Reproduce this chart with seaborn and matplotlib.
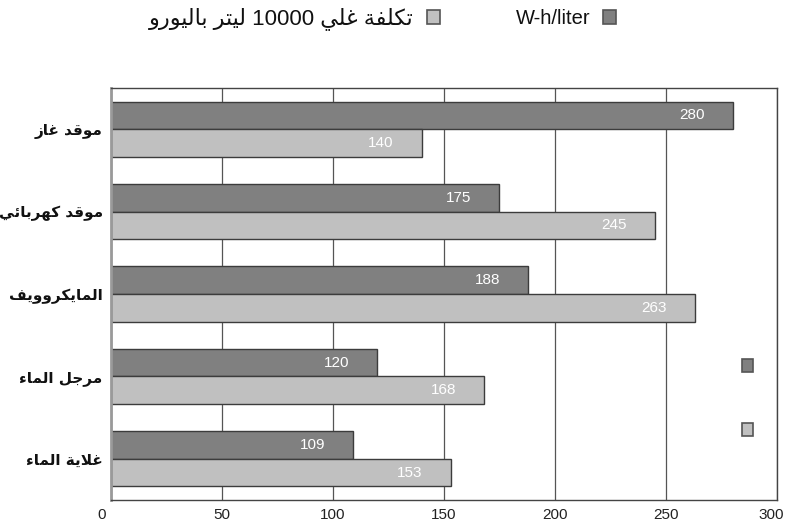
import re

import matplotlib
matplotlib.use("Agg")
import matplotlib.pyplot as plt
from matplotlib.patches import Patch, Rectangle
from matplotlib.transforms import ScaledTranslation
import pandas as pd
import seaborn as sns

# ---- data -------------------------------------------------------------
categories = ["موقد غاز", "موقد كهربائي", "المايكروويف", "مرجل الماء", "غلاية الماء"]
wh_per_liter = [280, 175, 188, 120, 109]
cost_10000_liters = [140, 245, 263, 168, 153]
series_names = ["W-h/liter", "تكلفة غلي 10000 ليتر باليورو"]
x_ticks = [0, 50, 100, 150, 200, 250, 300]

DARK = "#808080"
LIGHT = "#c0c0c0"
EDGE = "#3c3c3c"

# ---- minimal Arabic shaping (matplotlib has no complex text layout) -----
# letter: (isolated, final, initial, medial); right-joining letters lack the last two
FORMS = {
    "\u0621": ("\uFE80", None, None, None),
    "\u0626": ("\uFE89", "\uFE8A", "\uFE8B", "\uFE8C"),
    "\u0627": ("\uFE8D", "\uFE8E", None, None),
    "\u0628": ("\uFE8F", "\uFE90", "\uFE91", "\uFE92"),
    "\u0629": ("\uFE93", "\uFE94", None, None),
    "\u062A": ("\uFE95", "\uFE96", "\uFE97", "\uFE98"),
    "\u062C": ("\uFE9D", "\uFE9E", "\uFE9F", "\uFEA0"),
    "\u062F": ("\uFEA9", "\uFEAA", None, None),
    "\u0631": ("\uFEAD", "\uFEAE", None, None),
    "\u0632": ("\uFEAF", "\uFEB0", None, None),
    "\u063A": ("\uFECD", "\uFECE", "\uFECF", "\uFED0"),
    "\u0641": ("\uFED1", "\uFED2", "\uFED3", "\uFED4"),
    "\u0642": ("\uFED5", "\uFED6", "\uFED7", "\uFED8"),
    "\u0643": ("\uFED9", "\uFEDA", "\uFEDB", "\uFEDC"),
    "\u0644": ("\uFEDD", "\uFEDE", "\uFEDF", "\uFEE0"),
    "\u0645": ("\uFEE1", "\uFEE2", "\uFEE3", "\uFEE4"),
    "\u0647": ("\uFEE9", "\uFEEA", "\uFEEB", "\uFEEC"),
    "\u0648": ("\uFEED", "\uFEEE", None, None),
    "\u064A": ("\uFEF1", "\uFEF2", "\uFEF3", "\uFEF4"),
}
LAM, ALEF = "\u0644", "\u0627"


def _dual(ch):
    return ch in FORMS and FORMS[ch][2] is not None


def shape_arabic(text):
    out = []
    i = 0
    n = len(text)
    while i < n:
        ch = text[i]
        if ch not in FORMS:
            out.append(ch)
            i += 1
            continue
        prev_joins = i > 0 and _dual(text[i - 1])
        if ch == LAM and i + 1 < n and text[i + 1] == ALEF:
            out.append("\uFEFC" if prev_joins else "\uFEFB")
            i += 2
            continue
        next_joins = _dual(ch) and i + 1 < n and text[i + 1] in FORMS
        iso, fin, ini, med = FORMS[ch]
        if prev_joins and next_joins:
            out.append(med)
        elif prev_joins:
            out.append(fin)
        elif next_joins:
            out.append(ini)
        else:
            out.append(iso)
        i += 1
    visual = "".join(out)[::-1]
    return re.sub(r"[0-9]+", lambda m: m.group(0)[::-1], visual)


# ---- figure -----------------------------------------------------------
sns.set_style("white")
plt.rcParams["font.family"] = ["Liberation Sans", "DejaVu Sans"]

df = pd.DataFrame({
    "category": categories * 2,
    "series": [series_names[0]] * len(categories) + [series_names[1]] * len(categories),
    "value": wh_per_liter + cost_10000_liters,
})

fig = plt.figure(figsize=(7.86, 5.27), dpi=100)
ax = fig.add_axes([0.1412, 0.0512, 0.8473, 0.782])

sns.barplot(data=df, y="category", x="value", hue="series", orient="h",
            palette=[DARK, LIGHT], width=0.67, saturation=1,
            edgecolor=EDGE, linewidth=1.0, legend=False, ax=ax)

ax.set_xlim(x_ticks[0], x_ticks[-1])
ax.set_ylim(len(categories) - 0.5, -0.5)
ax.set_xticks(x_ticks)
ax.set_xticklabels([str(t) for t in x_ticks], fontsize=11, color="#222222")
ax.set_yticks(range(len(categories)))
ax.set_yticklabels([shape_arabic(c) for c in categories],
                   fontsize=11, fontweight="bold", color="#111111",
                   family=["DejaVu Sans"])
ax.tick_params(axis="both", length=0, pad=6)
ax.set_xlabel("")
ax.set_ylabel("")

# pull the end labels of the value axis inward a little
xlabels = ax.get_xticklabels()
xlabels[0].set_transform(xlabels[0].get_transform()
                         + ScaledTranslation(-9 / 100, 0, fig.dpi_scale_trans))
xlabels[-1].set_transform(xlabels[-1].get_transform()
                          + ScaledTranslation(-6 / 100, 0, fig.dpi_scale_trans))

ax.set_axisbelow(True)
ax.grid(axis="x", color="#555555", linewidth=0.9)
ax.grid(axis="y", visible=False)
for side in ("top", "right", "bottom"):
    ax.spines[side].set_color("#444444")
    ax.spines[side].set_linewidth(1.0)
ax.spines["left"].set_color("#9a9a9a")
ax.spines["left"].set_linewidth(2.0)

# value labels inside the bar ends
for container in ax.containers:
    for bar in container:
        w = bar.get_width()
        ax.annotate(f"{w:.0f}", xy=(w, bar.get_y() + bar.get_height() / 2),
                    xytext=(-28, 0), textcoords="offset pixels",
                    ha="right", va="center", color="white", fontsize=11)

# legend across the top, keys to the right of their text
handles = [Patch(facecolor=LIGHT, edgecolor="#555555", linewidth=1.2),
           Patch(facecolor=DARK, edgecolor="#555555", linewidth=1.2)]
labels = [shape_arabic(series_names[1]), series_names[0]]
leg = fig.legend(handles, labels, loc="center", bbox_to_anchor=(0.487, 0.965),
                 ncol=2, markerfirst=False, frameon=False,
                 handlelength=0.65, handleheight=0.75, handletextpad=0.65,
                 columnspacing=3.75,
                 prop={"family": ["Liberation Sans", "DejaVu Sans"], "size": 14.5})
leg.get_texts()[0].set_fontsize(16)
leg.get_texts()[0].set_color("#111111")
leg.get_texts()[1].set_color("#111111")

# small series keys at the right edge of the plot
for yy, col in ((0.31, DARK), (0.155, LIGHT)):
    ax.add_patch(Rectangle((0.947, yy), 0.017, 0.033, transform=ax.transAxes,
                           facecolor=col, edgecolor="#555555", linewidth=1.2,
                           clip_on=False))

fig.savefig("out.png", dpi=100)
